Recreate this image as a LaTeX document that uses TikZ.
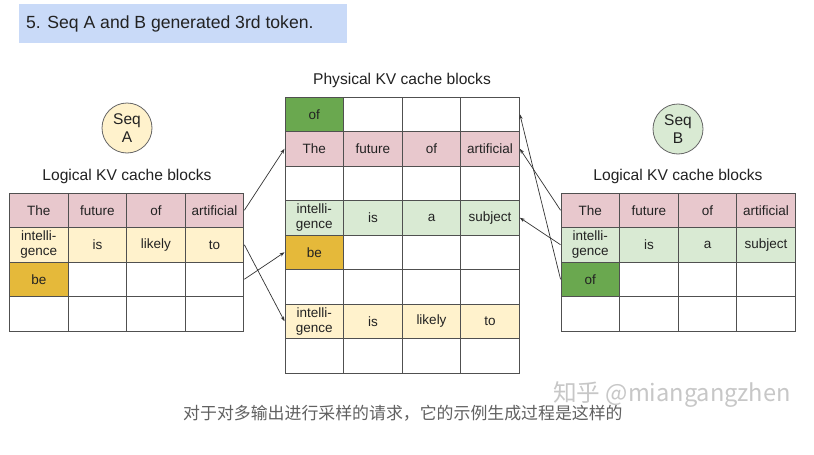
\documentclass[tikz,border=0pt]{standalone}
\usepackage{fontspec}
\setmainfont{Liberation Sans}
\newfontfamily\cjkfont{Noto Sans CJK SC}
\usetikzlibrary{arrows.meta}

\definecolor{titleblue}{HTML}{C9DAF8}
\definecolor{rowpink}{HTML}{E8C8CD}
\definecolor{rowyellow}{HTML}{FFF2CC}
\definecolor{tokyellow}{HTML}{E5B93A}
\definecolor{rowgreen}{HTML}{D9EAD3}
\definecolor{tokgreen}{HTML}{6AA84F}
\definecolor{gridline}{HTML}{505050}
\definecolor{inktext}{HTML}{222222}

\tikzset{
  cell/.style={draw=gridline, line width=0.9pt, minimum width=58.6pt,
    minimum height=34.5pt, inner sep=0pt, align=center, text=inktext,
    font=\fontsize{13.5}{15}\selectfont},
  seqcircle/.style={circle, draw=gray!80!black, line width=0.8pt,
    minimum size=50pt, inner sep=0pt, align=center, text=inktext,
    font=\fontsize{15.5}{17.5}\selectfont},
  heading/.style={text=inktext, font=\fontsize{15.6}{18}\selectfont},
  link/.style={draw=black!80, line width=0.7pt,
    -{Stealth[length=5pt,width=3.5pt]}},
}

% one cache block grid: #1 prefix, #2 left x, #3 top y, #4 rows
\newcommand{\kvgrid}[4]{%
  \foreach \r in {1,...,#4}{%
    \foreach \c in {1,...,4}{%
      \node[cell] (#1-\r-\c) at ({#2+58.6*(\c-0.5)},{#3+34.5*(\r-0.5)}) {};
    }%
  }%
}
% a filled cell with text: #1 name, #2 colour, #3 text
\newcommand{\kvcell}[3]{%
  \node[cell, fill=#2] at (#1) {#3};
}

\begin{document}
\begin{tikzpicture}[x=1pt,y=-1pt]
\useasboundingbox (0,0) rectangle (814,455);
\fill[white] (0,0) rectangle (814,455);

% title banner
\node[fill=titleblue, minimum width=328pt, minimum height=38.5pt, anchor=north west,
  inner sep=0pt] (banner) at (18.3,4.2) {};
\node[anchor=west, inner sep=0pt, text=inktext, font=\fontsize{17.6}{20}\selectfont] (title)
  at (26,23.5) {5. Seq A and B generated 3rd token.};

% sequence markers
\node[seqcircle, fill=rowyellow] (seqA) at (127,128) {Seq\\A};
\node[seqcircle, fill=rowgreen] (seqB) at (678,129) {Seq\\B};

% headings
\node[heading] (headL) at (127,176) {Logical KV cache blocks};
\node[heading] (headP) at (402,80) {Physical KV cache blocks};
\node[heading] (headR) at (678,176) {Logical KV cache blocks};

% the three grids
\kvgrid{L}{9.5}{193}{4}
\kvgrid{P}{285}{97}{8}
\kvgrid{R}{561}{193}{4}

% logical blocks of sequence A
\kvcell{L-1-1}{rowpink}{The}
\kvcell{L-1-2}{rowpink}{future}
\kvcell{L-1-3}{rowpink}{of}
\kvcell{L-1-4}{rowpink}{artificial}
\kvcell{L-2-1}{rowyellow}{intelli-\\gence}
\kvcell{L-2-2}{rowyellow}{is}
\kvcell{L-2-3}{rowyellow}{likely}
\kvcell{L-2-4}{rowyellow}{to}
\kvcell{L-3-1}{tokyellow}{be}

% physical blocks
\kvcell{P-1-1}{tokgreen}{of}
\kvcell{P-2-1}{rowpink}{The}
\kvcell{P-2-2}{rowpink}{future}
\kvcell{P-2-3}{rowpink}{of}
\kvcell{P-2-4}{rowpink}{artificial}
\kvcell{P-4-1}{rowgreen}{intelli-\\gence}
\kvcell{P-4-2}{rowgreen}{is}
\kvcell{P-4-3}{rowgreen}{a}
\kvcell{P-4-4}{rowgreen}{subject}
\kvcell{P-5-1}{tokyellow}{be}
\kvcell{P-7-1}{rowyellow}{intelli-\\gence}
\kvcell{P-7-2}{rowyellow}{is}
\kvcell{P-7-3}{rowyellow}{likely}
\kvcell{P-7-4}{rowyellow}{to}

% logical blocks of sequence B
\kvcell{R-1-1}{rowpink}{The}
\kvcell{R-1-2}{rowpink}{future}
\kvcell{R-1-3}{rowpink}{of}
\kvcell{R-1-4}{rowpink}{artificial}
\kvcell{R-2-1}{rowgreen}{intelli-\\gence}
\kvcell{R-2-2}{rowgreen}{is}
\kvcell{R-2-3}{rowgreen}{a}
\kvcell{R-2-4}{rowgreen}{subject}
\kvcell{R-3-1}{tokgreen}{of}

% block table mappings
\draw[link] (L-1-4.east) -- (P-2-1.west);
\draw[link] (L-2-4.east) -- (P-7-1.west);
\draw[link] (L-3-4.east) -- (P-5-1.west);
\draw[link] (R-1-1.west) -- (P-2-4.east);
\draw[link] (R-2-1.west) -- (P-4-4.east);
\draw[link] (R-3-1.west) -- (P-1-4.east);

% caption and watermark
\node[anchor=west, inner sep=0pt, text=black!62, font=\cjkfont\fontsize{16.9}{19}\selectfont]
  (caption) at (183,413) {对于对多输出进行采样的请求，它的示例生成过程是这样的};
\node[anchor=west, inner sep=0pt, text=black!22, font=\cjkfont\fontsize{23.6}{26}\selectfont]
  (mark) at (553,395) {知乎 @miangangzhen};
\end{tikzpicture}
\end{document}
